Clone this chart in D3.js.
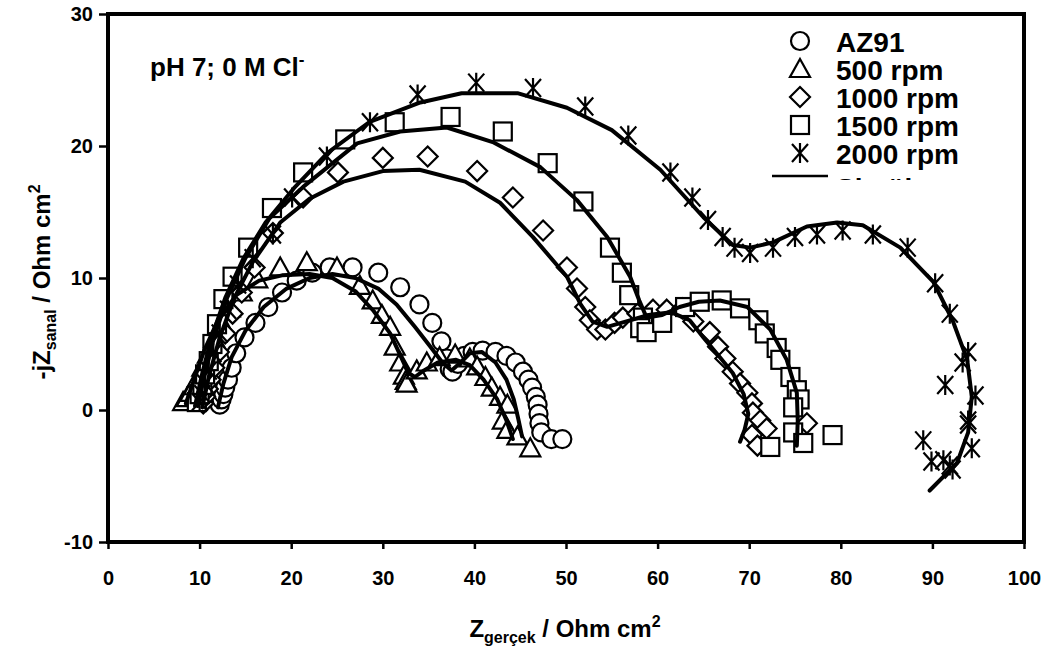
<!DOCTYPE html>
<html>
<head>
<meta charset="utf-8">
<script src="https://cdn.jsdelivr.net/npm/d3@7"></script>
<style>
  html, body { margin: 0; padding: 0; background: #fff; }
  svg { display: block; font-family: "Liberation Sans", Arial, sans-serif; font-weight: bold; }
</style>
</head>
<body>
<svg id="chart" width="1051" height="648"></svg>
<script>
// Nyquist data: [Z real, -Z imaginary] in Ohm cm^2
const seriesNames = ["AZ91", "500 rpm", "1000 rpm", "1500 rpm", "2000 rpm"];
const fitName = "Simülasyon";

const az91 = [[12.2,0.4],[12.4,0.8],[12.6,1.2],[12.8,1.7],[13.1,2.3],[13.5,3.2],[14.0,4.3],[14.9,5.5],[16.1,6.6],[17.5,7.8],[19.0,8.9],[20.6,9.8],[22.3,10.4],[24.2,10.8],[26.7,10.8],[29.5,10.4],[31.9,9.3],[34.0,8.0],[35.4,6.6],[36.4,5.2],[37.0,3.9],[37.3,3.1],[37.6,2.9],[38.2,3.5],[38.9,4.1],[39.8,4.4],[40.9,4.5],[42.3,4.4],[43.5,4.1],[44.5,3.6],[45.3,2.9],[45.9,2.3],[46.3,1.7],[46.7,1.0],[46.9,0.4],[47.0,-0.3],[47.1,-1.0],[47.3,-1.7],[48.4,-2.2],[49.6,-2.2]];
const rpm500 = [[8.2,0.6],[8.6,0.9],[9.0,1.3],[9.4,1.8],[9.8,2.4],[10.3,3.2],[10.9,4.2],[11.6,5.4],[12.4,6.6],[13.3,7.7],[14.6,8.9],[16.3,9.9],[18.8,10.8],[21.7,11.2],[25.0,10.8],[27.5,9.4],[28.9,8.3],[29.9,7.2],[30.8,6.3],[31.3,4.8],[31.9,3.6],[32.3,2.6],[32.5,2.2],[32.6,2.0],[33.7,3.0],[34.8,3.6],[36.2,4.0],[37.9,4.2],[39.5,3.9],[40.3,3.3],[41.2,2.5],[41.9,1.7],[42.8,1.0],[43.6,0.4],[43.1,-0.8],[43.6,-1.5],[44.7,-2.0],[46.1,-2.9]];
const rpm1000 = [[10.4,0.5],[10.6,1.0],[10.9,1.6],[11.2,2.3],[11.6,3.2],[12.1,4.4],[12.8,5.8],[13.6,7.3],[14.6,8.9],[16.0,10.8],[18.0,13.4],[21.3,16.1],[25.1,18.0],[30.0,19.1],[34.9,19.2],[40.3,18.1],[44.2,16.1],[47.5,13.6],[50.1,10.8],[51.2,9.2],[52.1,7.8],[52.6,6.8],[53.4,6.1],[54.3,6.1],[55.3,6.6],[56.2,7.0],[57.8,7.3],[59.5,7.6],[61.0,7.6],[62.7,7.7],[63.9,6.7],[65.7,5.9],[66.6,4.8],[67.4,3.9],[68.2,2.9],[69.0,2.0],[69.8,1.3],[70.3,0.5],[70.4,-0.2],[71.2,-0.8],[71.9,-1.4],[70.3,-1.9],[70.9,-2.7],[76.3,-1.0]];
const rpm1500 = [[9.7,0.6],[10.0,1.2],[10.3,1.9],[10.6,2.7],[11.0,3.7],[11.4,5.0],[11.9,6.5],[12.6,8.4],[13.6,10.1],[15.3,12.3],[17.9,15.3],[21.3,18.0],[25.9,20.5],[31.3,21.8],[37.4,22.2],[43.1,21.1],[48.0,18.7],[51.9,15.8],[54.8,12.3],[56.1,10.4],[56.9,8.7],[58.4,7.0],[58.1,6.2],[58.8,5.9],[60.5,6.6],[63.0,7.8],[64.6,8.2],[67.0,8.3],[69.0,7.7],[71.0,6.8],[71.7,5.8],[73.0,4.7],[73.4,3.8],[74.5,2.5],[75.2,1.5],[75.5,0.8],[74.8,0.2],[74.8,-1.7],[75.9,-2.5],[72.3,-2.8],[79.1,-1.9]];
const rpm2000 = [[10.0,0.6],[10.3,1.2],[10.6,2.0],[11.0,3.0],[11.5,4.3],[12.2,5.8],[13.1,7.6],[14.2,9.5],[15.8,11.5],[18.0,13.3],[20.1,16.1],[23.9,19.2],[28.6,21.8],[33.8,23.9],[40.2,24.8],[46.4,24.4],[52.1,23.0],[56.8,20.8],[61.4,18.0],[63.8,16.1],[65.5,14.4],[67.1,13.1],[68.4,12.3],[70.1,11.9],[72.6,12.3],[75.0,13.1],[77.4,13.3],[80.2,13.6],[83.5,13.3],[87.3,12.3],[90.3,9.6],[91.9,7.3],[93.9,4.4],[93.3,3.6],[91.4,1.9],[94.7,1.1],[93.9,-0.8],[93.9,-1.1],[94.3,-2.9],[89.0,-2.3],[91.9,-4.2],[89.9,-3.9],[91.2,-3.8],[92.2,-4.5]];

// equivalent-circuit fits
const fitAz91 = [[12.0,0.2],[12.6,2.0],[13.5,4.0],[15.0,6.0],[17.0,7.8],[19.5,9.2],[22.0,10.0],[24.5,10.3],[27.0,10.0],[29.5,9.2],[31.5,8.0],[33.5,6.3],[35.2,4.8],[36.5,3.6],[37.5,3.0],[38.5,3.6],[39.5,4.3],[40.8,4.4],[42.3,3.6],[43.5,2.3],[44.3,0.8],[44.8,-0.7],[45.2,-2.0]];
const fit500 = [[8.5,0.5],[9.5,2.5],[10.5,4.5],[12.0,6.8],[14.0,8.7],[16.5,9.8],[19.0,10.2],[22.0,10.3],[24.5,10.0],[27.0,9.0],[29.0,7.5],[30.8,5.8],[32.0,4.0],[32.8,2.8],[33.5,2.5],[34.5,3.0],[36.0,3.6],[38.0,3.8],[39.5,3.4],[41.0,2.3],[42.5,0.8],[43.5,-0.8],[44.2,-2.2]];
const fit1000 = [[10.3,0.2],[11.0,2.5],[12.2,5.5],[13.8,8.5],[15.8,11.2],[18.8,14.2],[22.0,16.0],[25.7,17.3],[30.0,18.1],[34.0,18.2],[39.0,17.3],[42.8,15.7],[46.4,13.1],[50.1,10.1],[51.6,8.0],[52.9,6.7],[54.5,6.3],[56.5,6.7],[59.0,7.2],[61.5,7.4],[63.5,6.8],[65.0,5.5],[66.8,4.0],[68.2,2.8],[69.4,1.2],[69.9,-0.3],[69.5,-1.5],[69.0,-2.4]];
const fit1500 = [[9.8,0.3],[10.5,2.5],[11.5,5.3],[13.0,8.5],[15.0,11.5],[17.6,14.5],[21.3,16.9],[27.2,20.2],[31.9,21.1],[37.0,21.4],[42.0,20.3],[47.2,18.4],[51.2,15.9],[54.5,13.1],[57.0,10.1],[58.0,8.3],[58.8,7.0],[60.5,7.2],[62.4,7.8],[64.5,8.2],[66.8,8.3],[69.8,7.8],[72.3,6.1],[74.1,3.8],[75.2,1.3],[75.3,-0.8],[75.2,-2.7]];
const fit2000 = [[9.5,0.3],[10.3,2.8],[11.3,5.5],[12.8,8.5],[14.8,11.5],[17.2,14.2],[20.3,16.8],[24.0,19.5],[28.5,21.8],[34.1,23.3],[38.6,24.0],[44.7,24.0],[50.1,22.9],[55.0,21.2],[60.3,18.2],[65.0,14.6],[68.2,12.5],[70.1,12.3],[72.6,12.7],[76.3,13.9],[79.6,14.2],[82.4,14.0],[86.5,12.3],[90.1,9.7],[92.2,6.8],[93.8,3.8],[94.3,1.0],[93.9,-1.7],[92.7,-4.0],[89.7,-6.1]];

const xTicks = [0, 10, 20, 30, 40, 50, 60, 70, 80, 90, 100];
const yTicks = [-10, 0, 10, 20, 30];

const svg = d3.select("#chart");
const x = d3.scaleLinear().domain([0, 100]).range([108, 1024]);
const y = d3.scaleLinear().domain([-10, 30]).range([542, 14]);

// marker shapes, drawn centred on (0,0)
const shapes = {
  circle: g => g.append("circle").attr("r", 9),
  triangle: g => g.append("path").attr("d", "M0,-10L10,8L-10,8Z"),
  diamond: g => g.append("path").attr("d", "M0,-10L10,0L0,10L-10,0Z"),
  square: g => g.append("rect").attr("x", -9).attr("y", -9).attr("width", 18).attr("height", 18),
  star: g => g.append("path").attr("d", "M0,-10V10M-8,-9L8,9M-8,9L8,-9")
};

const series = [
  { name: seriesNames[0], data: az91, fit: fitAz91, shape: "circle" },
  { name: seriesNames[1], data: rpm500, fit: fit500, shape: "triangle" },
  { name: seriesNames[2], data: rpm1000, fit: fit1000, shape: "diamond" },
  { name: seriesNames[3], data: rpm1500, fit: fit1500, shape: "square" },
  { name: seriesNames[4], data: rpm2000, fit: fit2000, shape: "star" }
];

// markers
const markers = svg.append("g");
series.forEach(s => {
  s.data.forEach(d => {
    const g = markers.append("g")
      .attr("transform", `translate(${x(d[0])},${y(d[1])})`)
      .attr("fill", "#fff").attr("stroke", "#000").attr("stroke-width", 2.2);
    shapes[s.shape](g);
  });
});

// fitted curves
const line = d3.line().x(d => x(d[0])).y(d => y(d[1]));
svg.append("g").selectAll("path").data(series).join("path")
  .attr("d", s => line(s.fit))
  .attr("fill", "none").attr("stroke", "#000").attr("stroke-width", 4)
  .attr("stroke-linejoin", "round").attr("stroke-linecap", "round");

// axes (plain hyphen for negative labels)
const fmt = v => String(v);
const yAxis = svg.append("g").attr("transform", `translate(${x(0)},0)`)
  .call(d3.axisLeft(y).tickValues(yTicks).tickFormat(fmt).tickSize(9).tickPadding(6));
const xAxis = svg.append("g").attr("transform", `translate(0,${y(-10)})`)
  .call(d3.axisBottom(x).tickValues(xTicks).tickFormat(fmt).tickSize(7).tickPadding(22));
[xAxis, yAxis].forEach(a => {
  a.select(".domain").remove();
  a.selectAll(".tick line").attr("stroke", "#000").attr("stroke-width", 2.5);
  a.selectAll(".tick text").attr("fill", "#000")
    .style("font-family", "'Liberation Sans', Arial, sans-serif")
    .style("font-weight", "bold").style("font-size", "20px");
});

// frame
svg.append("rect")
  .attr("x", x(0)).attr("y", y(30))
  .attr("width", x(100) - x(0)).attr("height", y(-10) - y(30))
  .attr("fill", "none").attr("stroke", "#000").attr("stroke-width", 4);

// axis titles
const xt = svg.append("text").attr("x", 565).attr("y", 637).attr("text-anchor", "middle")
  .style("font-size", "24px");
xt.append("tspan").text("Z");
xt.append("tspan").text("gerçek").style("font-size", "16px").attr("dy", 6);
xt.append("tspan").text(" / Ohm cm").attr("dy", -6);
xt.append("tspan").text("2").style("font-size", "16px").attr("dy", -10);

const yt = svg.append("text").attr("transform", "translate(50,282) rotate(-90)")
  .attr("text-anchor", "middle").style("font-size", "24px");
yt.append("tspan").text("-jZ");
yt.append("tspan").text("sanal").style("font-size", "16px").attr("dy", 6);
yt.append("tspan").text(" / Ohm cm").attr("dy", -6);
yt.append("tspan").text("2").style("font-size", "16px").attr("dy", -10);

// condition label
const cond = svg.append("text").attr("x", 150).attr("y", 76).style("font-size", "26px");
cond.append("tspan").text("pH 7; 0 M Cl");
cond.append("tspan").text("-").style("font-size", "17px").attr("dy", -11);

// legend (its box ends just under the fifth entry)
svg.append("clipPath").attr("id", "legendClip")
  .append("rect").attr("x", 760).attr("y", 20).attr("width", 260).attr("height", 160);
const legend = svg.append("g").attr("clip-path", "url(#legendClip)");
series.forEach((s, i) => {
  const cy = 41 + i * 28;
  const g = legend.append("g").attr("transform", `translate(800,${cy})`)
    .attr("fill", "#fff").attr("stroke", "#000").attr("stroke-width", 2.2);
  shapes[s.shape](g);
  legend.append("text").attr("x", 836).attr("y", cy + 11).style("font-size", "28px").text(s.name);
});
legend.append("line").attr("x1", 772).attr("x2", 828).attr("y1", 176).attr("y2", 176)
  .attr("stroke", "#000").attr("stroke-width", 2.5);
legend.append("text").attr("x", 836).attr("y", 198).style("font-size", "28px").text(fitName);
</script>
</body>
</html>
